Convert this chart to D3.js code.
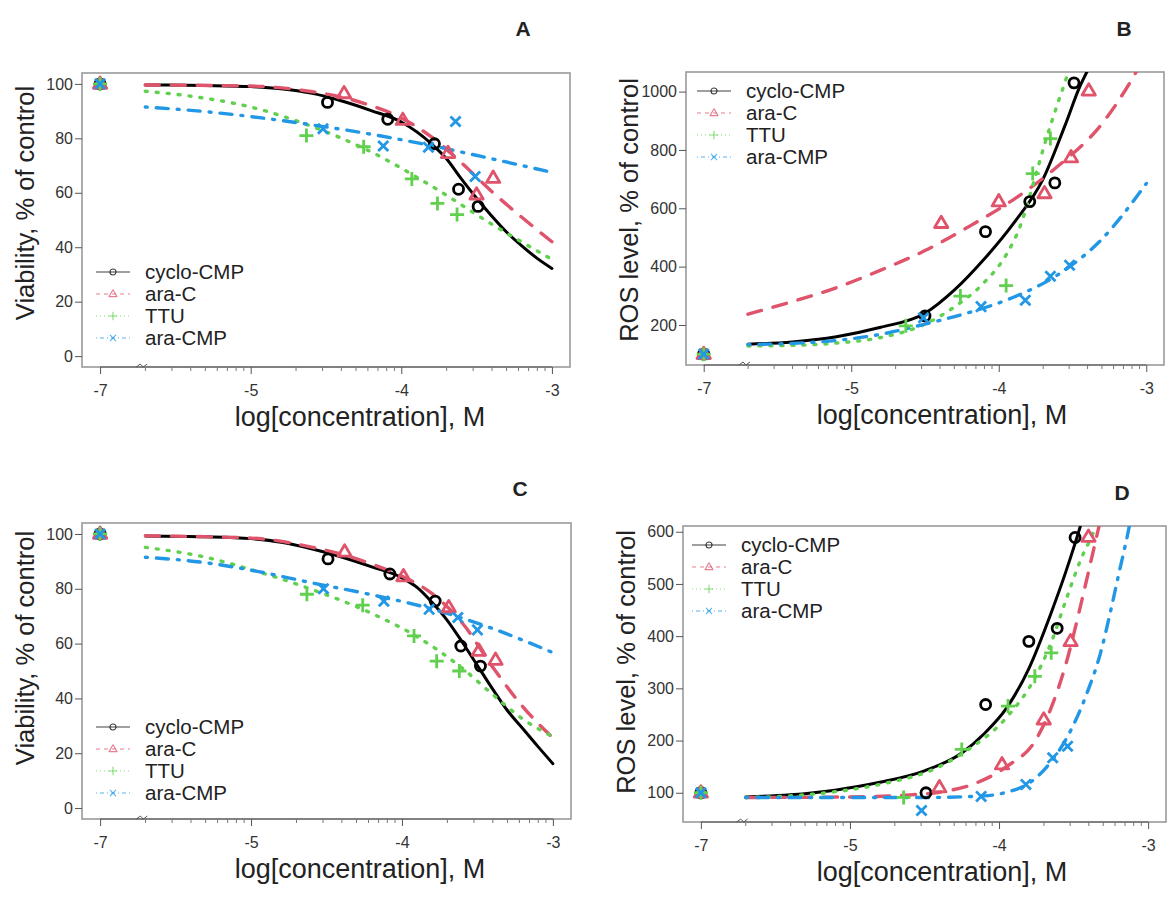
<!DOCTYPE html>
<html>
<head>
<meta charset="utf-8">
<script src="https://cdn.jsdelivr.net/npm/d3@7"></script>
<style>
  body { margin: 0; background: #fff; }
  text { font-family: "Liberation Sans", Arial, sans-serif; }
</style>
</head>
<body>
<svg id="fig" width="1171" height="897"></svg>
<script>
// ---- data ----
const seriesNames = ["cyclo-CMP", "ara-C", "TTU", "ara-CMP"];
const seriesColors = ["#000000", "#DF536B", "#61D04F", "#2297E6"];
const xTicks = [-6, -5, -4, -3];
const xTickLabels = ["-7", "-5", "-4", "-3"];   // -7 = control, drawn on a broken axis
const controlPoint = [-6, 100];

// A: viability, set 1
const ptsA_cyclo  = [[-4.49, 93.2], [-4.09, 87.0], [-3.78, 78.0], [-3.62, 61.3], [-3.49, 55.0]];
const ptsA_araC   = [[-4.38, 96.5], [-3.99, 86.7], [-3.69, 74.5], [-3.50, 59.3], [-3.39, 65.4]];
const ptsA_ttu    = [[-4.63, 81.0], [-4.25, 76.9], [-3.93, 65.1], [-3.76, 56.1], [-3.63, 52.0]];
const ptsA_araCMP = [[-4.52, 83.5], [-4.12, 77.2], [-3.82, 76.7], [-3.64, 86.2], [-3.51, 66.0]];
const fitA_cyclo  = [[-5.7, 99.6], [-5.3, 99.4], [-5.0, 99.0], [-4.8, 98.2], [-4.6, 96.6], [-4.4, 93.8], [-4.2, 90.2], [-4.0, 86.0], [-3.8, 78.0], [-3.7, 72.5], [-3.6, 65.0], [-3.5, 58.0], [-3.4, 51.5], [-3.3, 45.5], [-3.2, 40.5], [-3.1, 36.0], [-3.0, 32.2]];
const fitA_araC   = [[-5.7, 99.6], [-5.0, 99.2], [-4.6, 97.2], [-4.4, 95.2], [-4.2, 92.0], [-4.0, 87.5], [-3.8, 80.5], [-3.6, 71.0], [-3.4, 60.5], [-3.2, 51.0], [-3.0, 42.0]];
const fitA_ttu    = [[-5.7, 97.3], [-5.4, 95.5], [-5.0, 91.5], [-4.6, 84.5], [-4.2, 75.0], [-3.8, 62.5], [-3.4, 48.5], [-3.0, 35.5]];
const fitA_araCMP = [[-5.7, 91.5], [-5.3, 89.8], [-5.0, 88.0], [-4.6, 85.0], [-4.2, 81.5], [-3.8, 77.3], [-3.4, 72.5], [-3.0, 67.5]];

// B: ROS level, set 1
const ptsB_cyclo  = [[-4.50, 231], [-4.09, 520], [-3.79, 623], [-3.62, 687], [-3.49, 1030]];
const ptsB_araC   = [[-4.39, 549], [-4.00, 623], [-3.69, 651], [-3.51, 774], [-3.39, 1003]];
const ptsB_ttu    = [[-4.63, 197], [-4.26, 299], [-3.95, 335], [-3.77, 719], [-3.65, 839]];
const ptsB_araCMP = [[-4.51, 225], [-4.12, 263], [-3.82, 285], [-3.65, 367], [-3.52, 405]];
const fitB_cyclo  = [[-5.7, 134], [-5.4, 142], [-5.1, 160], [-4.8, 192], [-4.5, 240], [-4.3, 320], [-4.1, 425], [-3.9, 548], [-3.7, 700], [-3.55, 885], [-3.45, 1018], [-3.4, 1070]];
const fitB_araC   = [[-5.7, 237], [-5.4, 280], [-5.1, 328], [-4.8, 388], [-4.5, 455], [-4.2, 538], [-3.9, 630], [-3.6, 744], [-3.3, 890], [-3.1, 1040], [-3.0, 1130]];
const fitB_ttu    = [[-5.7, 128], [-5.4, 130], [-5.1, 138], [-4.8, 157], [-4.5, 203], [-4.3, 262], [-4.1, 345], [-3.95, 440], [-3.85, 545], [-3.76, 695], [-3.68, 835], [-3.6, 960], [-3.54, 1050], [-3.5, 1120]];
const fitB_araCMP = [[-5.7, 133], [-5.4, 137], [-5.1, 147], [-4.8, 168], [-4.5, 203], [-4.2, 243], [-3.9, 295], [-3.6, 372], [-3.3, 495], [-3.0, 685]];

// C: viability, set 2
const ptsC_cyclo  = [[-4.49, 90.9], [-4.08, 85.4], [-3.78, 75.5], [-3.61, 59.1], [-3.48, 51.8]];
const ptsC_araC   = [[-4.38, 93.5], [-3.99, 84.5], [-3.69, 73.2], [-3.49, 57.3], [-3.38, 54.0]];
const ptsC_ttu    = [[-4.63, 78.0], [-4.26, 74.0], [-3.92, 62.8], [-3.77, 53.6], [-3.62, 50.0]];
const ptsC_araCMP = [[-4.52, 80.0], [-4.12, 75.5], [-3.82, 72.5], [-3.63, 69.5], [-3.50, 65.0]];
const fitC_cyclo  = [[-5.7, 99.3], [-5.3, 99.0], [-5.0, 98.3], [-4.8, 97.0], [-4.6, 94.6], [-4.4, 91.6], [-4.2, 88.0], [-4.0, 84.0], [-3.9, 80.5], [-3.8, 75.0], [-3.7, 68.5], [-3.6, 60.5], [-3.5, 52.0], [-3.4, 43.5], [-3.3, 35.5], [-3.2, 29.0], [-3.1, 22.5], [-3.0, 16.2]];
const fitC_araC   = [[-5.7, 99.3], [-5.0, 98.5], [-4.6, 95.2], [-4.4, 92.6], [-4.2, 89.0], [-4.0, 84.6], [-3.8, 78.2], [-3.6, 67.5], [-3.4, 51.5], [-3.2, 37.0], [-3.0, 25.6]];
const fitC_ttu    = [[-5.7, 95.1], [-5.3, 91.5], [-5.0, 87.0], [-4.6, 79.8], [-4.2, 71.0], [-3.9, 62.5], [-3.6, 51.0], [-3.4, 41.5], [-3.2, 32.5], [-3.0, 26.0]];
const fitC_araCMP = [[-5.7, 91.5], [-5.3, 89.5], [-5.0, 86.8], [-4.6, 82.2], [-4.2, 77.8], [-3.8, 72.6], [-3.4, 65.5], [-3.0, 56.7]];

// D: ROS level, set 2
const ptsD_cyclo  = [[-4.49, 100], [-4.09, 269], [-3.80, 390], [-3.61, 415], [-3.49, 589]];
const ptsD_araC   = [[-4.40, 110], [-3.98, 154], [-3.70, 240], [-3.52, 390], [-3.40, 590]];
const ptsD_ttu    = [[-4.64, 91], [-4.25, 183], [-3.94, 266], [-3.76, 323], [-3.65, 368]];
const ptsD_araCMP = [[-4.52, 66], [-4.12, 93], [-3.82, 116], [-3.64, 167], [-3.54, 189]];
const fitD_cyclo  = [[-5.7, 92], [-5.4, 96], [-5.1, 105], [-4.8, 120], [-4.5, 142], [-4.25, 176], [-4.1, 213], [-3.95, 262], [-3.8, 338], [-3.65, 445], [-3.55, 525], [-3.45, 615], [-3.4, 665]];
const fitD_araC   = [[-5.7, 91], [-5.0, 92], [-4.6, 96], [-4.4, 101], [-4.15, 119], [-3.95, 150], [-3.75, 203], [-3.65, 263], [-3.55, 348], [-3.45, 462], [-3.38, 548], [-3.33, 610], [-3.3, 650]];
const fitD_ttu    = [[-5.7, 91], [-5.4, 94], [-5.1, 102], [-4.8, 116], [-4.4, 150], [-4.2, 184], [-3.95, 244], [-3.75, 325], [-3.65, 388], [-3.55, 470], [-3.45, 548], [-3.36, 605], [-3.3, 665]];
const fitD_araCMP = [[-5.7, 91], [-4.5, 91], [-4.1, 94], [-3.95, 101], [-3.8, 118], [-3.65, 160], [-3.54, 208], [-3.41, 291], [-3.32, 367], [-3.25, 450], [-3.2, 515], [-3.13, 605], [-3.1, 650]];

// ---- layout ----
const svg = d3.select("#fig");

const lineDash = [null, "14,12", "2,9", "2,9,12,9"];       // lty 1..4 at lwd 3
const legendDash = [null, "4,4", "1,3", "1,3,4,3"];

const panels = [
  { key: "A", box: [82, 570, 73, 367], yLim: [0, 100], yTicks: [0, 20, 40, 60, 80, 100],
    yTitle: "Viability, % of control", yTitleY: 203, xTitleX: 360, letter: [523, 36], legend: [96, 272],
    pts: [ptsA_cyclo, ptsA_araC, ptsA_ttu, ptsA_araCMP], fits: [fitA_cyclo, fitA_araC, fitA_ttu, fitA_araCMP] },
  { key: "B", box: [686, 1164, 72, 365], yLim: [100, 1030], yTicks: [200, 400, 600, 800, 1000],
    yTitle: "ROS level, % of control", yTitleY: 210, xTitleX: 942, letter: [1124, 36], legend: [697, 91],
    pts: [ptsB_cyclo, ptsB_araC, ptsB_ttu, ptsB_araCMP], fits: [fitB_cyclo, fitB_araC, fitB_ttu, fitB_araCMP] },
  { key: "C", box: [82, 571, 523, 819], yLim: [0, 100], yTicks: [0, 20, 40, 60, 80, 100],
    yTitle: "Viability, % of control", yTitleY: 648, xTitleX: 360, letter: [520, 496], legend: [96, 727],
    pts: [ptsC_cyclo, ptsC_araC, ptsC_ttu, ptsC_araCMP], fits: [fitC_cyclo, fitC_araC, fitC_ttu, fitC_araCMP] },
  { key: "D", box: [683, 1166, 526, 822], yLim: [65, 590], yTicks: [100, 200, 300, 400, 500, 600],
    yTitle: "ROS level, % of control", yTitleY: 662, xTitleX: 942, letter: [1122, 500], legend: [692, 545],
    pts: [ptsD_cyclo, ptsD_araC, ptsD_ttu, ptsD_araCMP], fits: [fitD_cyclo, fitD_araC, fitD_ttu, fitD_araCMP] }
];

// R style 4% padding around the limits
function pad(lim) {
  const r = lim[1] - lim[0];
  return [lim[0] - r * 0.04, lim[1] + r * 0.04];
}

// pch 1..4 : circle, triangle, plus, cross
function drawSymbol(g, i, cx, cy, s, color, lw) {
  if (i === 0) {
    g.append("circle").attr("cx", cx).attr("cy", cy).attr("r", s * 0.72)
      .attr("fill", "none").attr("stroke", color).attr("stroke-width", lw);
    return;
  }
  let d;
  if (i === 1) {
    d = `M${cx},${cy - s} L${cx + s * 0.95},${cy + s * 0.62} L${cx - s * 0.95},${cy + s * 0.62} Z`;
  } else if (i === 2) {
    d = `M${cx - s},${cy} H${cx + s} M${cx},${cy - s} V${cy + s}`;
  } else {
    const t = s * 0.72;
    d = `M${cx - t},${cy - t} L${cx + t},${cy + t} M${cx - t},${cy + t} L${cx + t},${cy - t}`;
  }
  g.append("path").attr("d", d).attr("fill", "none")
    .attr("stroke", color).attr("stroke-width", lw).attr("stroke-linejoin", "round");
}

const minorTicks = [];
[-6, -5, -4].forEach(e => {
  for (let k = 2; k <= 9; k++) minorTicks.push(e + Math.log10(k));
});

panels.forEach(p => {
  const [x0, x1, y0, y1] = p.box;
  const x = d3.scaleLinear().domain(pad([-6, -3])).range([x0, x1]);
  const y = d3.scaleLinear().domain(pad(p.yLim)).range([y1, y0]);
  const g = svg.append("g").attr("class", "panel-" + p.key);

  // clip for the fitted curves
  const clipId = "clip" + p.key;
  svg.append("clipPath").attr("id", clipId)
    .append("rect").attr("x", x0).attr("y", y0).attr("width", x1 - x0).attr("height", y1 - y0);

  // box
  g.append("rect").attr("x", x0).attr("y", y0).attr("width", x1 - x0).attr("height", y1 - y0)
    .attr("fill", "none").attr("stroke", "#9a9a9a").attr("stroke-width", 1.6);

  // x axis (major + minor ticks)
  const xa = g.append("g").attr("transform", `translate(0,${y1})`)
    .call(d3.axisBottom(x).tickValues(xTicks).tickFormat((d, i) => xTickLabels[i])
      .tickSize(7).tickPadding(11));
  xa.select(".domain").attr("stroke", "#555").attr("stroke-width", 1.2)
    .attr("d", `M${x(-6)},0H${x(-3)}`);
  xa.selectAll(".tick line").attr("stroke", "#555");
  xa.selectAll(".tick text").attr("font-size", 16).attr("fill", "#333")
    .attr("font-family", "Liberation Sans, Arial, sans-serif");
  xa.selectAll(".minor").data(minorTicks).enter().append("line")
    .attr("class", "minor")
    .attr("x1", d => x(d)).attr("x2", d => x(d)).attr("y1", 0).attr("y2", 4)
    .attr("stroke", "#777").attr("stroke-width", 1);

  // axis break mark
  const bx = x(-5.72);
  g.append("path")
    .attr("d", `M${bx - 6},${y1} L${bx - 2},${y1 - 3} L${bx + 1},${y1} L${bx + 5},${y1 - 3}`)
    .attr("fill", "none").attr("stroke", "#555").attr("stroke-width", 1);

  // y axis
  const ya = g.append("g").attr("transform", `translate(${x0},0)`)
    .call(d3.axisLeft(y).tickValues(p.yTicks).tickFormat(d3.format("d")).tickSize(7).tickPadding(2));
  ya.select(".domain").remove();
  ya.selectAll(".tick line").attr("stroke", "#555");
  ya.selectAll(".tick text").attr("font-size", 16).attr("fill", "#333")
    .attr("font-family", "Liberation Sans, Arial, sans-serif");

  // axis titles
  g.append("text").attr("x", p.xTitleX).attr("y", y1 + 59)
    .attr("text-anchor", "middle").attr("font-size", 27).attr("fill", "#222")
    .text("log[concentration], M");
  g.append("text")
    .attr("transform", `translate(${x0 - 48},${p.yTitleY}) rotate(-90)`)
    .attr("text-anchor", "middle").attr("font-size", 25.5).attr("fill", "#222")
    .text(p.yTitle);

  // panel letter
  g.append("text").attr("x", p.letter[0]).attr("y", p.letter[1])
    .attr("text-anchor", "middle").attr("font-size", 21).attr("font-weight", "bold")
    .attr("fill", "#222").text(p.key);

  // fitted curves
  const line = d3.line().x(d => x(d[0])).y(d => y(d[1])).curve(d3.curveMonotoneX);
  const curves = g.append("g").attr("clip-path", `url(#${clipId})`);
  p.fits.forEach((f, i) => {
    curves.append("path").datum(f).attr("d", line)
      .attr("fill", "none").attr("stroke", seriesColors[i])
      .attr("stroke-width", i === 0 ? 3 : 3.4)
      .attr("stroke-linecap", "round")
      .attr("stroke-dasharray", lineDash[i]);
  });

  // measured points + control
  const pg = g.append("g");
  p.pts.forEach((pts, i) => {
    pts.forEach(d => drawSymbol(pg, i, x(d[0]), y(d[1]), 7, seriesColors[i], 2.8));
  });
  seriesColors.forEach((c, i) => {
    drawSymbol(pg, i, x(controlPoint[0]), y(controlPoint[1]), 7, c, 2.8);
  });

  // legend
  const [lx, ly] = p.legend;
  const lg = g.append("g").attr("transform", `translate(${lx},${ly})`);
  seriesNames.forEach((name, i) => {
    const row = lg.append("g").attr("transform", `translate(0,${i * 22})`);
    row.append("line").attr("x1", 0).attr("x2", 34).attr("y1", 0).attr("y2", 0)
      .attr("stroke", seriesColors[i]).attr("stroke-width", 1.2).attr("opacity", 0.75)
      .attr("stroke-dasharray", legendDash[i]);
    const sg = row.append("g").attr("opacity", 0.75);
    drawSymbol(sg, i, 17, 0, 4.2, seriesColors[i], 1.1);
    row.append("text").attr("x", 49).attr("y", 7).attr("font-size", 20.5)
      .attr("fill", "#222").text(name);
  });
});
</script>
</body>
</html>
